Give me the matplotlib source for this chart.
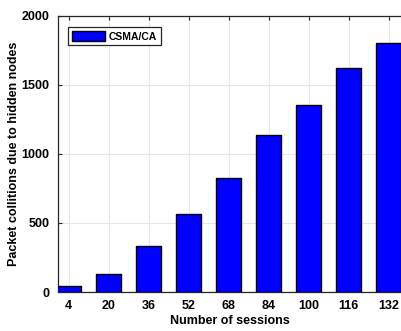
import matplotlib
matplotlib.use('Agg')
import matplotlib.pyplot as plt
import numpy as np

sessions = [4, 20, 36, 52, 68, 84, 100, 116, 132]
collisions = [40, 130, 333, 562, 822, 1136, 1353, 1618, 1799]
y_ticks = [0, 500, 1000, 1500, 2000]

plt.rcParams['font.family'] = ['Liberation Sans', 'DejaVu Sans']
plt.rcParams['font.weight'] = 'bold'

fig = plt.figure(figsize=(4.02, 3.31), dpi=100)
ax = fig.add_axes([0.1443, 0.1178, 0.8557, 0.8353])

ax.bar(sessions, collisions, width=10, color='#0000ff', edgecolor='black',
       linewidth=1.0, label='CSMA/CA', zorder=3)

ax.set_xlim(-0.2, 137.4)
ax.set_ylim(0, 2000)
ax.set_xticks(sessions)
ax.set_yticks(y_ticks)
ax.tick_params(direction='in', length=3, width=0.8, colors='#262626',
               labelsize=9, top=True, right=False, pad=6)
for lbl in ax.get_xticklabels() + ax.get_yticklabels():
    lbl.set_fontweight('bold')
    lbl.set_color('black')

ax.grid(True, color='#e6e6e6', linewidth=0.8, zorder=0)
ax.set_axisbelow(True)
for side in ['left', 'bottom', 'top']:
    ax.spines[side].set_color('#262626')
    ax.spines[side].set_linewidth(0.9)
ax.spines['right'].set_visible(False)

ax.set_xlabel('Number of sessions', fontsize=9, fontweight='bold', labelpad=2)
ax.set_ylabel('Packet collitions due to hidden nodes', fontsize=9,
              fontweight='bold', labelpad=1)

leg = ax.legend(loc='upper left', bbox_to_anchor=(0.029, 0.958), borderaxespad=0,
                fancybox=False, edgecolor='#262626', framealpha=1,
                prop={'weight': 'bold', 'size': 7.5},
                handlelength=3.2, handleheight=1.2, borderpad=0.35,
                handletextpad=0.35)
leg.get_frame().set_linewidth(0.9)

fig.savefig('out.png', dpi=100)
